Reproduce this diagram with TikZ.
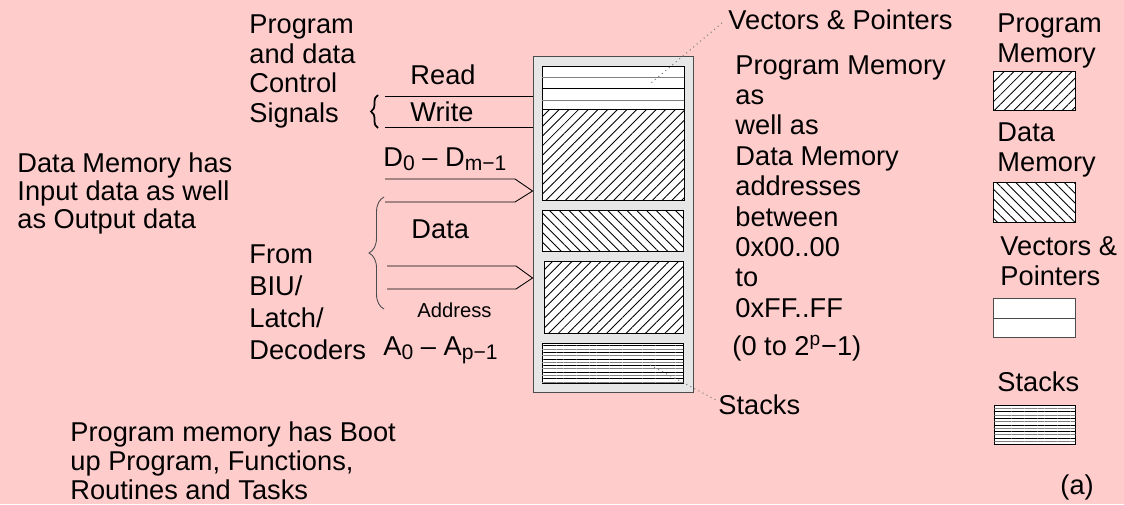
\documentclass[tikz,border=0pt]{standalone}
\usepackage{fontspec}
\setmainfont{Liberation Sans}
\usepackage{tikz}
\usetikzlibrary{calc}
\usetikzlibrary{decorations.pathreplacing,patterns.meta}
\definecolor{bgpink}{HTML}{FFCCCC}
\definecolor{boxgray}{HTML}{E6E6E6}
\newcommand{\lsub}[1]{\raisebox{-0.3ex}{\fontsize{12}{12}\selectfont #1}}

\begin{document}
\begin{tikzpicture}[x=0.02cm,y=-0.02cm,line width=0.5pt,
  txt/.style={inner sep=0,anchor=west,font=\fontsize{15.5}{17}\selectfont},
  para/.style={txt,anchor=north west,align=left},
  blk/.style n args={2}{draw,fill=white,inner sep=0,minimum width=#1*0.02cm,minimum height=#2*0.02cm},
  proghatch/.style={preaction={fill=white},pattern={Lines[angle=45,distance=3.9pt,line width=0.5pt]}},
  datahatch/.style={preaction={fill=white},pattern={Lines[angle=-45,distance=3.9pt,line width=0.5pt]}},
  stackhatch/.style={preaction={fill=white},pattern={Lines[angle=0,distance=3.75pt,line width=0.5pt]},
    postaction={pattern={Lines[angle=0,distance=3.75pt,yshift=1.88pt,line width=0.5pt]},pattern color=gray}},
  bus/.style={black,line width=0.5pt},
  leader/.style={gray,dotted,line width=0.6pt}]
\fill[bgpink] (0,0) rectangle (1124,504);
\useasboundingbox (0,0) rectangle (1124,504);

% memory map
\node[blk={160}{336},fill=boxgray,draw=black!70] (mem) at (613,224) {};
\node[blk={142}{43}] (vecblk) at (613,87.5) {};
\draw[gray] (vecblk.west |- 0,77) -- (vecblk.east |- 0,77);
\draw (vecblk.west |- 0,88) -- (vecblk.east |- 0,88);
\draw[gray] (vecblk.west |- 0,100) -- (vecblk.east |- 0,100);
\node[blk={142}{91},proghatch] (pmblk) at (613,154.5) {};
\node[blk={141}{41},datahatch] (dmblk) at (612.5,230.5) {};
\node[blk={139}{72},proghatch] (pmblkb) at (613.5,297) {};
\node[blk={141}{40},stackhatch] (stblk) at (612.5,363) {};

% signals and buses
\node[para] (ctrltxt) at (249,14) {Program\\and data\\Control\\Signals};
\node[txt] (rdtxt) at (410,75) {Read};
\node[txt] (wrtxt) at (410,112) {Write};
\coordinate (rd) at (385,96);
\coordinate (wr) at (385,127);
\draw[bus] (rd) -- (rd -| mem.west);
\draw[bus] (wr) -- (wr -| mem.west);
\draw[decorate,decoration={brace,amplitude=0.14cm},line width=1pt] (378,128) -- (378,95);

\node[txt] (dtxt) at (383,159) {D\lsub{0} – D\lsub{m−1}};
\coordinate (dtop) at (385,179);
\coordinate (dbot) at (385,202);
\coordinate (dtip) at (mem.west |- 0,191);
\draw[bus] (dtop) -- (515,179) -- (dtip) -- (515,202) -- (dbot);

\node[txt] (datatxt) at (411,229) {Data};
\coordinate (atop) at (387,266);
\coordinate (abot) at (387,289);
\coordinate (atip) at (mem.west |- 0,278);
\draw[bus] (atop) -- (516,266) -- (atip) -- (516,289) -- (abot);
\node[txt,font=\fontsize{11.5}{13}\selectfont] (addrtxt) at (417,310) {Address};
\draw[decorate,decoration={brace,amplitude=0.3cm},black!70] (384,309) -- (384,197);
\node[txt] (atxt) at (383,350) {A\lsub{0} – A\lsub{p−1}};

\node[para,font=\fontsize{15.5}{16}\selectfont] (dmtxt) at (17,152) {Data Memory has\\Input data as well\\as Output data};
\node[para,font=\fontsize{15.5}{18.2}\selectfont] (fromtxt) at (249,244) {From\\BIU/\\Latch/\\Decoders};
\node[para,font=\fontsize{15.5}{16.6}\selectfont] (boottxt) at (70,421) {Program memory has Boot\\up Program, Functions,\\Routines and Tasks};

% right side texts
\node[txt] (vptxt) at (728,20) {Vectors \& Pointers};
\coordinate (vpend) at (651,83);
\draw[leader] ([xshift=-0.12cm,yshift=-0.06cm]vptxt.west) -- (vpend);
\node[para,font=\fontsize{15.5}{17.3}\selectfont] (pmtxt) at (735,55) {Program Memory\\as\\well as\\Data Memory\\addresses\\between\\0x00..00\\to\\0xFF..FF};
\node[txt] (rangetxt) at (732,348) {(0 to 2\textsuperscript{p}−1)};
\node[txt] (sttxt) at (718,405) {Stacks};
\coordinate (stend) at (650,365);
\draw[leader] (stend) -- ([xshift=-0.04cm,yshift=0.1cm]sttxt.west);

% legend
\node[para] (lgpm) at (997,13) {Program\\Memory};
\node[blk={82}{39},proghatch,anchor=north west] (lgpmbox) at (993,71) {};
\node[para] (lgdm) at (997,122) {Data\\Memory};
\node[blk={82}{40},datahatch,anchor=north west] (lgdmbox) at (993,182) {};
\node[para] (lgvp) at (1000,236) {Vectors \&\\Pointers};
\node[blk={82}{39},draw=black!70,anchor=north west] (lgvpbox) at (993,298) {};
\draw[black!70] (lgvpbox.west) -- (lgvpbox.east);
\node[txt] (lgst) at (997,382) {Stacks};
\node[blk={81}{39},stackhatch,anchor=north west] (lgstbox) at (994,405) {};
\node[txt] (lbla) at (1060,487) {(a)};
\end{tikzpicture}
\end{document}
